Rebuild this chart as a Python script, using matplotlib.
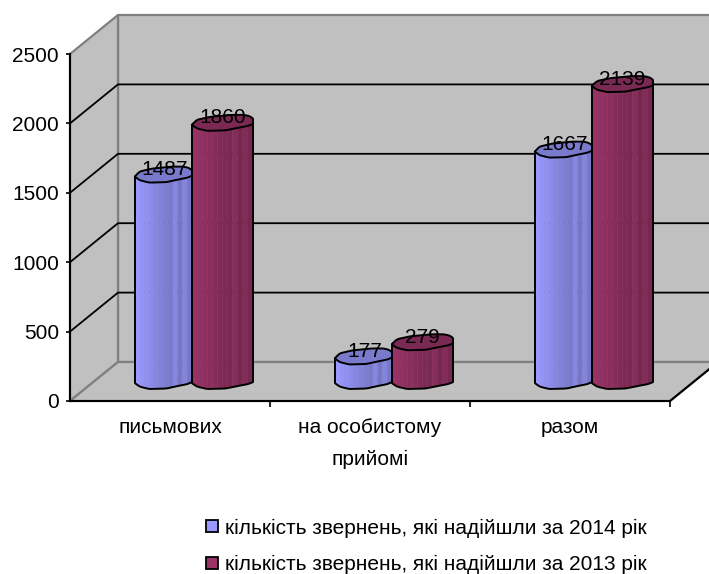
import numpy as np
import matplotlib
matplotlib.use('Agg')
import matplotlib.pyplot as plt
from matplotlib.patches import Polygon, Rectangle

plt.rcParams['font.family'] = ['Liberation Sans', 'DejaVu Sans']

categories = ['письмових', 'на особистому\nприйомі', 'разом']
series_2014 = [1487, 177, 1667]
series_2013 = [1860, 279, 2139]
label_2014 = 'кількість звернень, які надійшли за 2014 рік'
label_2013 = 'кількість звернень, які надійшли за 2013 рік'
yticks = [0, 500, 1000, 1500, 2000, 2500]

W, H = 709, 574
fig = plt.figure(figsize=(W / 100, H / 100), dpi=100)
# axes = front plane of the fake 3d box
ax = fig.add_axes([70 / W, 1 - 401 / H, 600 / W, 347 / H])
ax.set_xlim(-0.5, 2.5)
ax.set_ylim(0, 2500)
ax.patch.set_visible(False)
for s in ax.spines.values():
    s.set_visible(False)

px = 3 / 600       # one pixel in category units
py = 2500 / 347    # one pixel in value units
dx = 48 * px       # depth of the box
dy = 39 * py
GRAY = '#c0c0c0'
EDGE = '#808080'

# walls and floor
ax.add_patch(Rectangle((-0.5 + dx, dy), 3, 2500, fc=GRAY, ec=EDGE, lw=1.6, clip_on=False, zorder=1))
ax.add_patch(Polygon([(-0.5, 0), (-0.5, 2500), (-0.5 + dx, 2500 + dy), (-0.5 + dx, dy)],
                     fc=GRAY, ec=EDGE, lw=1.6, clip_on=False, zorder=1))
ax.add_patch(Polygon([(-0.5, 0), (2.5, 0), (2.5 + dx, dy), (-0.5 + dx, dy)],
                     fc=GRAY, ec=EDGE, lw=1.6, clip_on=False, zorder=1))

# gridlines on both walls
for t in yticks[1:-1]:
    ax.plot([-0.5, -0.5 + dx, 2.5 + dx], [t, t + dy, t + dy], color='black', lw=1.3, clip_on=False, zorder=2)
ax.plot([-0.5, 2.5, 2.5 + dx], [0, 0, dy], color='black', lw=1.5, clip_on=False, zorder=2)
ax.plot([-0.5, -0.5], [0, 2500], color='black', lw=1.5, clip_on=False, zorder=2)

# rough outline of the lumpy cylinder ends, in pixels around the centre
lower_u = [-1, -0.85, -0.5, 0.1, 0.5, 0.85, 1]
lower_v = [2, 5.5, 8, 7.5, 5, 3, 1]
upper_u = [-1, -0.85, -0.4, 0.3, 0.7, 0.92, 1]
upper_v = [2, -3, -6, -8, -8, -6.5, -4]
shades = [1.0, 0.97, 0.94, 0.91, 0.88, 0.85, 0.82, 0.80, 0.88, 0.78, 0.86, 0.78]


def smooth(u, us, vs):
    v = np.interp(u, us, vs)
    pad = np.r_[[v[0]] * 2, v, [v[-1]] * 2]
    out = np.convolve(pad, np.ones(5) / 5, mode='valid')
    out[0], out[-1] = v[0], v[-1]
    return out


def cylinder(cx, w, val, color, zorder):
    base = 144
    u = np.linspace(-1, 1, 61)
    low = -smooth(u, lower_u, lower_v) * py   # pixels go down, values go up
    up = -smooth(u, upper_u, upper_v) * py
    col = np.array(matplotlib.colors.to_rgb(color))
    # shaded strips, darker to the right
    edges = np.linspace(-1, 1, len(shades) + 1)
    for i, sh in enumerate(shades):
        m = (u >= edges[i] - 1e-9) & (u <= edges[i + 1] + 1e-9)
        xs = cx + w * u[m]
        ax.fill(np.r_[xs, xs[::-1]],
                np.r_[base + low[m], (val + base + low[m])[::-1]],
                color=col * sh, lw=0.3, clip_on=False, zorder=zorder)
    # outline of the body
    ax.plot(np.r_[cx - w, cx + w * u, cx + w],
            np.r_[val + base + low[0], base + low, val + base + low[-1]],
            color='black', lw=1.4, clip_on=False, zorder=zorder + 0.1)
    # top cap
    tx = np.r_[u, u[::-1]]
    ty = val + base + np.r_[low, up[::-1]]
    ax.add_patch(Polygon(np.c_[cx + w * tx, ty], closed=True, fc=col * 0.8, ec='black', lw=1.4,
                         clip_on=False, zorder=zorder + 0.2))


c1 = 163.5 - 170
c2 = 222.5 - 170
for i in range(3):
    cylinder(i + c1 * px, 28.5 * px, series_2014[i], '#9999ff', 3)
    cylinder(i + c2 * px, 30.5 * px, series_2013[i], '#993366', 4)
    ax.text(i + (c1 + 1) * px, series_2014[i] + 144 + 36, str(series_2014[i]), ha='center', va='center',
            fontsize=15, color='black', zorder=6)
    ax.text(i + c2 * px, series_2013[i] + 144 + 36, str(series_2013[i]), ha='center', va='center',
            fontsize=15, color='black', zorder=6)

ax.set_yticks(yticks)
ax.set_yticklabels([str(t) for t in yticks], fontsize=15)
ax.set_xticks([0.5, 1.5, 2.5])
ax.set_xticklabels([])
ax.tick_params(axis='both', length=3, width=1.2, color='black')
ax.tick_params(axis='y', pad=5)
ax.tick_params(axis='x', length=4)
for i, c in enumerate(categories):
    ax.annotate(c, (i, 0), xytext=(0, -12), textcoords='offset points', ha='center', va='top',
                fontsize=15, linespacing=1.9, annotation_clip=False)

# legend
for y, col, lab in [(526, '#9999ff', label_2014), (562.5, '#993366', label_2013)]:
    fig.patches.append(Rectangle((206 / W, 1 - (y + 6) / H), 12 / W, 12 / H, transform=fig.transFigure,
                                 fc=col, ec='black', lw=1.3))
    fig.text(225 / W, 1 - (y + 2) / H, lab, fontsize=15, ha='left', va='center')

fig.savefig('out.png', dpi=100)
